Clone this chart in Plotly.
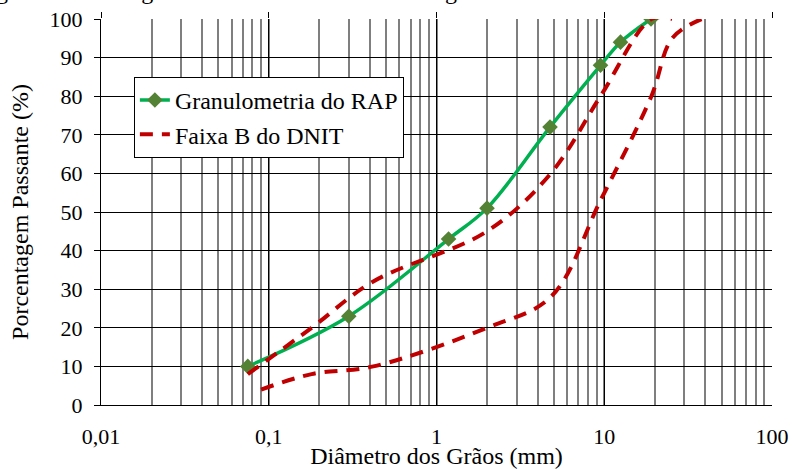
import plotly.graph_objects as go

# Granulometria do RAP
rap_d = [0.075, 0.3, 1.18, 2.0, 4.75, 9.5, 12.5, 19.0]
rap_p = [10, 23, 43, 51, 72, 88, 94, 100]

# Faixa B do DNIT - limite superior
sup_d = [0.075, 0.18, 0.42, 2.0, 4.8, 9.5, 19.1, 25.4]
sup_p = [8, 20, 32, 45, 60, 80, 100, 100]

# Faixa B do DNIT - limite inferior
inf_d = [0.09, 0.18, 0.42, 2.0, 4.8, 9.5, 19.1, 25.4, 38.1]
inf_p = [4, 8, 10, 20, 28, 53, 80, 95, 100]

x_ticks = [0.01, 0.1, 1, 10, 100]
x_ticktext = ["0,01", "0,1", "1", "10", "100"]
y_ticks = list(range(0, 101, 10))

FONT = "Liberation Serif"
GREEN = "#00B050"
MARK = "#548235"
RED = "#C00000"

fig = go.Figure()
fig.add_trace(go.Scatter(
    x=rap_d, y=rap_p, mode="lines+markers", name="Granulometria do RAP",
    line=dict(color=GREEN, width=3.5, shape="spline"),
    marker=dict(symbol="diamond", size=12, color=MARK),
))
fig.add_trace(go.Scatter(
    x=sup_d, y=sup_p, mode="lines", name="Faixa B do DNIT",
    line=dict(color=RED, width=4, dash="13px,9px", shape="spline"),
))
fig.add_trace(go.Scatter(
    x=inf_d, y=inf_p, mode="lines", name="Faixa B do DNIT", showlegend=False,
    line=dict(color=RED, width=4, dash="13px,9px", shape="spline"),
))
# invisible trace that carries the top tick axis
fig.add_trace(go.Scatter(
    x=rap_d, y=rap_p, xaxis="x2", mode="none", showlegend=False, hoverinfo="skip",
))

fig.update_layout(
    width=792, height=469,
    margin=dict(l=101, r=20, t=19, b=64),
    paper_bgcolor="white", plot_bgcolor="white",
    font=dict(family=FONT, size=22, color="black"),
    showlegend=True,
    legend=dict(
        x=0.049, y=0.85, xanchor="left", yanchor="top",
        bgcolor="white", bordercolor="black", borderwidth=1,
        font=dict(family=FONT, size=24, color="black"),
        tracegroupgap=0,
    ),
    xaxis=dict(
        type="log", range=[-2, 2], automargin=False,
        tickmode="array", tickvals=x_ticks, ticktext=x_ticktext,
        showgrid=True, gridcolor="black", gridwidth=1,
        minor=dict(dtick="D1", showgrid=True, gridcolor="#7f7f7f", gridwidth=2.2, ticks=""),
        showline=True, linecolor="black", linewidth=1,
        ticks="", zeroline=False, ticklabelstandoff=12,
        title=dict(text="Diâmetro dos Grãos (mm)", font=dict(size=24), standoff=4),
        tickfont=dict(size=22),
    ),
    xaxis2=dict(
        type="log", range=[-2, 2], overlaying="x", side="top", automargin=False,
        tickmode="array", tickvals=x_ticks, showticklabels=False,
        ticks="outside", ticklen=6, tickcolor="black", tickwidth=1,
        showgrid=False, showline=False, zeroline=False,
    ),
    yaxis=dict(
        range=[0, 100], tickvals=y_ticks, automargin=False,
        showgrid=True, gridcolor="black", gridwidth=1,
        showline=True, linecolor="black", linewidth=1,
        ticks="outside", ticklen=6, tickcolor="black",
        zeroline=False, ticklabelstandoff=7,
        title=dict(text="Porcentagem Passante (%)", font=dict(size=24), standoff=14),
        tickfont=dict(size=22),
    ),
)

# caption above chart (mostly cropped in reference)
fig.add_annotation(
    text="Figura 3 - Curva granulométrica do RAP e faixa granulométrica B do DNIT",
    xref="paper", yref="paper", x=-0.189, y=1.0, xanchor="left", yanchor="bottom",
    yshift=13, showarrow=False, font=dict(family=FONT, size=24, color="black"),
)

fig.write_html("out.html")
